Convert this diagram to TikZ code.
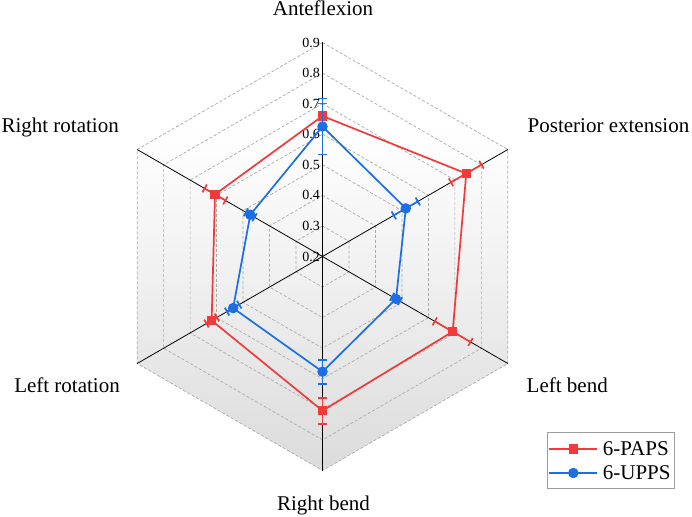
\documentclass[tikz,border=0pt]{standalone}
\usepackage{fontspec}
\setmainfont{Liberation Serif}
\usetikzlibrary{calc}
\definecolor{pred}{RGB}{242,58,58}
\definecolor{pblue}{RGB}{28,110,228}
\definecolor{gridc}{RGB}{170,170,170}
\pgfdeclareverticalshading{hexshade}{100bp}{color(0bp)=(gray!28); color(25bp)=(gray!28); color(50bp)=(gray!10); color(65bp)=(white); color(100bp)=(white)}
\newcommand\ebar[4]{% style, angle, r, e
  \draw[#1,rotate=#2] (#3-#4,0) -- (#3+#4,0)
    (#3-#4,-4.5) -- (#3-#4,4.5)
    (#3+#4,-4.5) -- (#3+#4,4.5);}
\begin{document}
\begin{tikzpicture}[x=1pt,y=1pt,
  gridl/.style={gridc,dash pattern=on 3pt off 2pt,line width=0.7pt},
  axisl/.style={black,line width=0.8pt},
  redl/.style={pred,line width=1.7pt},
  bluel/.style={pblue,line width=1.7pt},
  rsq/.style={fill=pred,rectangle,minimum size=9.5pt,inner sep=0pt,draw=none},
  bci/.style={fill=pblue,circle,minimum size=10.5pt,inner sep=0pt,draw=none},
  axlab/.style={font=\fontsize{21}{24}\selectfont,inner sep=0pt},
  ticklab/.style={font=\fontsize{14}{16}\selectfont,inner sep=0pt,anchor=east},
]
\useasboundingbox (-322.5,-259.5) rectangle (369.5,256.5);
\coordinate (O) at (0,0);
\foreach \i/\a in {1/90,2/30,3/-30,4/-90,5/210,6/150}
  \coordinate (v\i) at (\a:214);
% background shading
\shade[shading=hexshade] (v1)--(v2)--(v3)--(v4)--(v5)--(v6)--cycle;
% grid
\foreach \k in {1,...,7} {
  \pgfmathsetmacro\rr{\k*30.571}
  \draw[gridl] (90:\rr)--(30:\rr)--(-30:\rr)--(-90:\rr)--(210:\rr)--(150:\rr)--cycle;
}
% axes
\foreach \i in {1,...,6} \draw[axisl] (O) -- (v\i);
% tick labels
\foreach \v [count=\k from 0] in {0.2,0.3,0.4,0.5,0.6,0.7,0.8,0.9}
  \node[ticklab] (t\k) at (-2.5,\k*30.571) {\v};
% axis labels
\node[axlab,anchor=base] (lab1) at (0.5,240.5) {Anteflexion};
\node[axlab,anchor=base west] (lab2) at (205,123.5) {Posterior extension};
\node[axlab,anchor=base west] (lab3) at (204,-135.8) {Left bend};
\node[axlab,anchor=base] (lab4) at (1,-253.5) {Right bend};
\node[axlab,anchor=base east] (lab5) at (-202.5,-135.8) {Left rotation};
\node[axlab,anchor=base east] (lab6) at (-203.5,123.5) {Right rotation};
% data 6-PAPS
\coordinate (r1) at (90:140.5);
\coordinate (r2) at (30:166);
\coordinate (r3) at (-30:150.3);
\coordinate (r4) at (-90:154.2);
\coordinate (r5) at (210:128);
\coordinate (r6) at (150:124.1);
\draw[redl] (r1)--(r2)--(r3)--(r4)--(r5)--(r6)--cycle;
\ebar{redl}{90}{140.5}{12.5}
\ebar{redl}{30}{166}{17.6}
\ebar{redl}{-30}{150.3}{20.6}
\ebar{redl}{-90}{154.2}{13}
\ebar{redl}{210}{128}{6}
\ebar{redl}{150}{124.1}{12}
\foreach \i in {1,...,6} \node[rsq] (rm\i) at (r\i) {};
% data 6-UPPS
\coordinate (b1) at (90:130);
\coordinate (b2) at (30:96.2);
\coordinate (b3) at (-30:84.9);
\coordinate (b4) at (-90:115.2);
\coordinate (b5) at (210:103.2);
\coordinate (b6) at (150:83.4);
\draw[bluel] (b1)--(b2)--(b3)--(b4)--(b5)--(b6)--cycle;
\ebar{bluel}{90}{130}{28}
\ebar{bluel}{30}{96.2}{13.9}
\ebar{bluel}{-30}{84.9}{4.5}
\ebar{bluel}{-90}{115.2}{12}
\ebar{bluel}{210}{103.2}{7}
\ebar{bluel}{150}{83.4}{5}
\foreach \i in {1,...,6} \node[bci] (bm\i) at (b\i) {};
% legend
\node[draw=gray!75,line width=0.8pt,fill=white,minimum width=127pt,minimum height=56pt,inner sep=0pt,anchor=south west] (leg) at (224,-232) {};
\coordinate (la1) at (226.8,-192.5);
\coordinate (la2) at (274.8,-192.5);
\coordinate (lb1) at (226.8,-216.5);
\coordinate (lb2) at (274.8,-216.5);
\draw[redl] (la1) -- (la2);
\node[rsq] (lrm) at ($(la1)!0.5!(la2)$) {};
\node[axlab,anchor=west] (lt1) at (280.2,-192.5) {6-PAPS};
\draw[bluel] (lb1) -- (lb2);
\node[bci] (lbm) at ($(lb1)!0.5!(lb2)$) {};
\node[axlab,anchor=west] (lt2) at (280.2,-216.5) {6-UPPS};
\end{tikzpicture}
\end{document}
